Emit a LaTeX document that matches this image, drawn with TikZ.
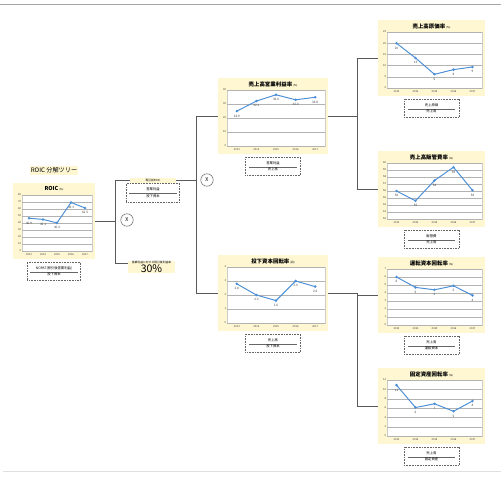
\documentclass[tikz,border=0pt]{standalone}
\usepackage{fontspec}
\setmainfont{Noto Sans CJK JP}
\usepackage{xcolor}
\usepackage{tikz}
\usetikzlibrary{positioning,fit,calc}
\definecolor{chartyellow}{HTML}{FEF7D2}
\definecolor{trendblue}{HTML}{4C8FD6}
\tikzset{
  chartbg/.style    = {rectangle, fill=chartyellow, draw=none, inner sep=0pt},
  charttitle/.style = {font=\fontsize{6.2}{7}\selectfont\bfseries, inner sep=0pt},
  axlbl/.style      = {font=\fontsize{3}{3.2}\selectfont, text=black!75, inner sep=0.8pt},
  vallbl/.style     = {font=\fontsize{3.5}{3.8}\selectfont, text=black!75, inner sep=0pt},
  plotframe/.style  = {fill=white, draw=black!20, line width=0.2pt},
  gridln/.style     = {draw=black!30, line width=0.3pt},
  trendln/.style    = {draw=trendblue, line width=1.1pt},
  trendmk/.style    = {fill=trendblue},
  fracbox/.style    = {rectangle, draw=black!60, dash pattern=on 1pt off 0.8pt, fill=white, line width=0.35pt,
                       align=center, font=\fontsize{3.8}{4.8}\selectfont,
                       minimum width=2.2cm, minimum height=0.72cm, inner sep=1pt},
  taglbl/.style     = {rectangle, fill=chartyellow, align=center, inner sep=0.8pt,
                       font=\fontsize{3.2}{4}\selectfont},
  treetitle/.style  = {rectangle, fill=chartyellow, inner sep=1.5pt, font=\fontsize{7}{8}\selectfont},
  multnode/.style   = {circle, draw=black!70, fill=white, line width=0.5pt, minimum size=0.5cm,
                       inner sep=0pt, font=\fontsize{6}{6}\selectfont},
  conn/.style       = {draw=black!65, line width=0.8pt},
  pageline/.style   = {draw=black!35, line width=1pt},
}
\newcommand{\unitlbl}[1]{{\fontsize{3}{3}\selectfont\mdseries #1}}
\newcommand{\fracpair}[2]{#1\\[-1.5pt]\textcolor{black!60}{\rule{1.9cm}{0.3pt}}\\[-0.5pt]#2}
% #1 name, #2 left, #3 top, #4 width, #5 title, #6 ymin, #7 ymax, #8 step, #9 i/value/label
\newcommand{\trendchart}[9]{%
  \node[chartbg, fit={(#2,#3) ({#2+#4},{#3+76})}] (#1) {};
  \node[charttitle] (#1-title) at ({#2+#4/2},{#3+6}) {#5};
  \pgfmathsetmacro{\chL}{#2+9}
  \pgfmathsetmacro{\chR}{#2+#4-3}
  \pgfmathsetmacro{\chT}{#3+12}
  \pgfmathsetmacro{\chB}{#3+68}
  \pgfmathsetmacro{\chS}{(\chR-\chL)/5}
  \pgfmathsetmacro{\chN}{#6+#8}
  \draw[plotframe] (\chL,\chT) rectangle (\chR,\chB);
  \foreach \t in {#6,\chN,...,#7} {
    \pgfmathsetmacro{\ty}{\chB-(\t-#6)/(#7-#6)*(\chB-\chT)}
    \pgfmathtruncatemacro{\tl}{round(\t)}
    \draw[gridln] (\chL,\ty) -- (\chR,\ty);
    \node[axlbl, anchor=east] at (\chL,\ty) {\tl};
  }
  \foreach \i/\v/\l in {#9} {
    \pgfmathsetmacro{\px}{\chL+(\i-0.5)*\chS}
    \pgfmathsetmacro{\py}{\chB-(\v-#6)/(#7-#6)*(\chB-\chT)}
    \coordinate (#1-p\i) at (\px,\py);
    \node[vallbl] (#1-v\i) at (\px,\py+4.8) {\l};
  }
  \draw[trendln] (#1-p1) -- (#1-p2) -- (#1-p3) -- (#1-p4) -- (#1-p5);
  \foreach \i in {1,...,5} \fill[trendmk] (#1-p\i) circle (1.6pt);
  \foreach \i/\yr in {1/2013,2/2014,3/2015,4/2016,5/2017} {
    \pgfmathsetmacro{\px}{\chL+(\i-0.5)*\chS}
    \node[axlbl] at (\px,#3+72) {\yr};
  }
}

\begin{document}
\begin{tikzpicture}[x=0.04cm, y=-0.04cm]

  \useasboundingbox (0,0) rectangle (501,482);
  \draw[pageline] (0,4) -- (501,4);
  \draw[black!12, line width=0.6pt] (3,471) -- (501,471);

  \node[treetitle] (tree) at (54,170.5) {ROIC 分解ツリー};

  \trendchart{roic}{13}{183}{82}{ROIC\,\unitlbl{(\%)}}{0}{80}{10}{1/46.9/46.9, 2/45.1/45.1, 3/40.2/40.2, 4/69.3/69.3, 5/61.5/61.5}
  \node[fracbox, below=1.2mm of roic, minimum width=2.12cm] (roic-f) {\fracpair{NOPAT(税引後営業利益)}{投下資本}};

  \node[taglbl, minimum width=1.8cm, minimum height=0.2cm] (pretax) at (153,180.5) {税引前ROIC};
  \node[fracbox, below=0pt of pretax, minimum width=2.12cm, minimum height=0.74cm] (pretax-f) {\fracpair{営業利益}{投下資本}};
  \node[taglbl, minimum width=1.88cm] (taxrate) at (151.5,267) {営業利益に対する税引後利益率\\{\fontsize{12}{12}\selectfont 30\%}};

  \node[multnode] (mult1) at (127,220) {X};
  \node[multnode] (mult2) at (207,180) {X};

  \trendchart{opm}{218}{78}{110}{売上高営業利益率\,\unitlbl{(\%)}}{0}{40}{10}{1/24.9/24.9, 2/32.1/32.1, 3/36.6/36.6, 4/33.0/33.0, 5/34.8/34.8}
  \node[fracbox, below=1.2mm of opm] (opm-f) {\fracpair{営業利益}{売上高}};

  \trendchart{itr}{218}{255}{110}{投下資本回転率\,\unitlbl{(回)}}{0}{4}{1}{1/2.8/2.8, 2/2.0/2.0, 3/1.6/1.6, 4/3.0/3.0, 5/2.6/2.6}
  \node[fracbox, below=1.2mm of itr] (itr-f) {\fracpair{売上高}{投下資本}};

  \trendchart{cogs}{378}{20}{107}{売上高原価率\,\unitlbl{(\%)}}{0}{25}{5}{1/20/20, 2/13.4/13, 3/6.1/6, 4/8.2/8, 5/9.4/9}
  \node[fracbox, below=1.2mm of cogs] (cogs-f) {\fracpair{売上原価}{売上高}};

  \trendchart{sga}{378}{151}{107}{売上高販管費率\,\unitlbl{(\%)}}{52}{60}{1}{1/56/56, 2/54.6/55, 3/57.5/58, 4/59.4/59, 5/56.1/56}
  \node[fracbox, below=1.2mm of sga] (sga-f) {\fracpair{販管費}{売上高}};

  \trendchart{wct}{378}{257}{107}{運転資本回転率\,\unitlbl{(\%)}}{0}{7}{1}{1/6/6, 2/4.7/5, 3/4.4/4, 4/4.9/5, 5/3.7/4}
  \node[fracbox, below=1.2mm of wct] (wct-f) {\fracpair{売上高}{運転資本}};

  \trendchart{fat}{378}{368}{107}{固定資産回転率\,\unitlbl{(\%)}}{0}{12}{2}{1/10.9/11, 2/6.1/6, 3/6.9/7, 4/5.3/5, 5/7.5/8}
  \node[fracbox, below=1.2mm of fat] (fat-f) {\fracpair{売上高}{固定資産}};

  \coordinate (j1) at ($(roic.east)+(20,0)$);
  \coordinate (j2) at ($(pretax.east)+(21,0)$);
  \coordinate (j3) at ($(opm.east)+(29,0)$);
  \coordinate (j4) at ($(itr.east)+(29,0)$);

  \draw[conn] (roic.east) -- (j1);
  \draw[conn] (pretax.west) -| (j1) |- ($(taxrate.west)+(0,-4)$);
  \draw[conn] (pretax.east) -- (j2);
  \draw[conn] (opm.west) -| (j2) |- (itr.west);
  \draw[conn] (opm.east) -- (j3);
  \draw[conn] (cogs.west) -| (j3) |- (sga.west);
  \draw[conn] (itr.east) -- (j4);
  \draw[conn] (wct.west) -| (j4) |- (fat.west);

\end{tikzpicture}
\end{document}
